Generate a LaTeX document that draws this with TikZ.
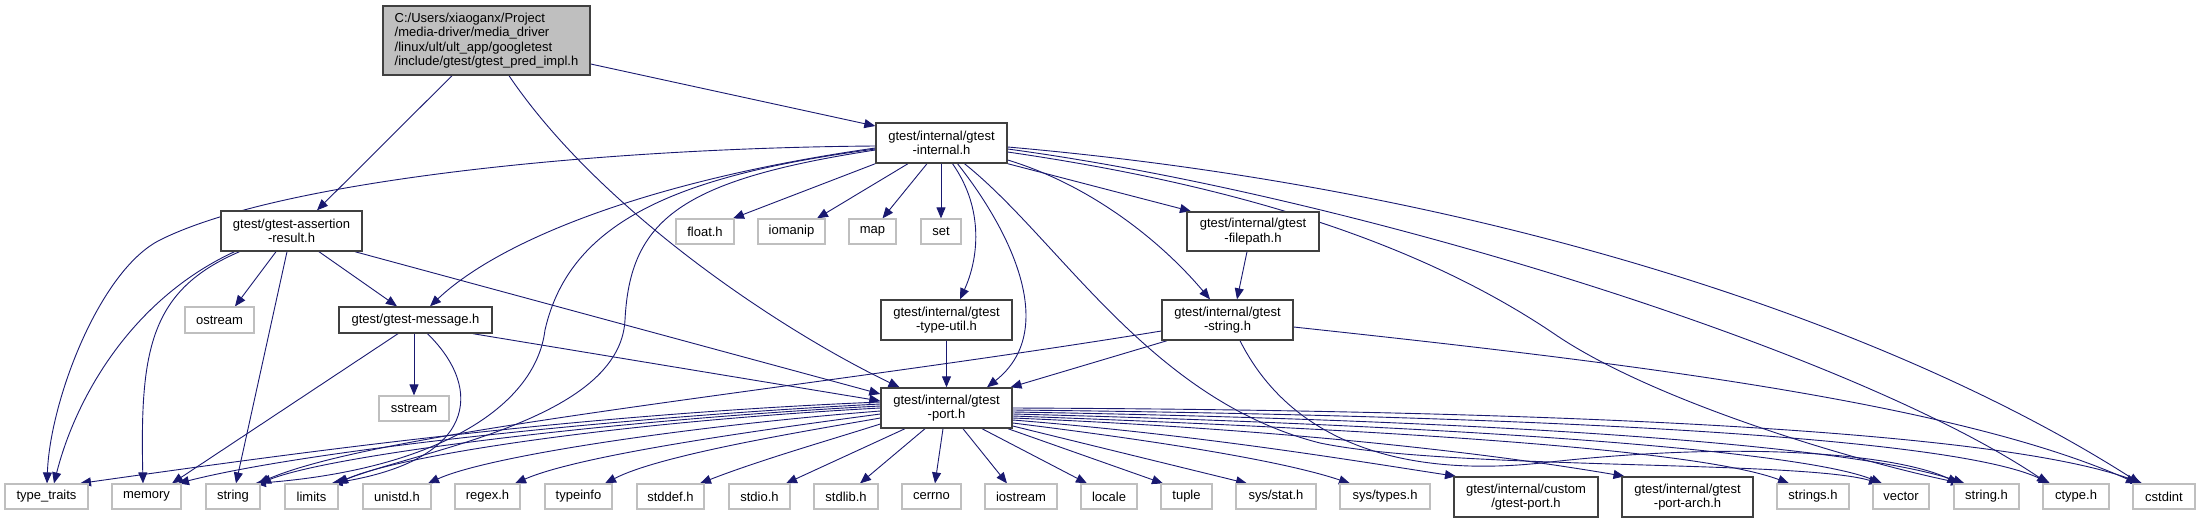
\documentclass[tikz,border=0pt]{standalone}
\usepackage{fontspec}
\setmainfont{Liberation Sans}
\usetikzlibrary{arrows.meta}
\definecolor{edgeblue}{HTML}{191970}
\definecolor{extgray}{HTML}{BFBFBF}
\definecolor{docgray}{HTML}{404040}
\definecolor{rootfill}{HTML}{BFBFBF}
\pgfdeclarelayer{bg}
\pgfsetlayers{bg,main}
\tikzset{
  bx/.style={inner sep=0pt, font=\fontsize{13}{14.5}\selectfont, align=center, fill=white},
  extn/.style={bx, draw=extgray, line width=1.2pt},
  docn/.style={bx, draw=docgray, line width=1.4pt},
  rootn/.style={docn, fill=rootfill, align=left},
  dep/.style={draw=edgeblue, line width=0.9pt, -{Triangle[length=11pt,width=9pt]}},
}
\begin{document}
\begin{tikzpicture}[x=1pt,y=-1pt]
\useasboundingbox (0,0) rectangle (2200,528);
% ---------- nodes ----------
\node[rootn, minimum width=207pt, minimum height=69pt] (R) at (486.5,40.5)
  {C:/Users/xiaoganx/Project\\/media-driver/media\_driver\\/linux/ult/ult\_app/googletest\\/include/gtest/gtest\_pred\_impl.h};
\node[docn, minimum width=141pt, minimum height=40pt] (A) at (291.5,231) {gtest/gtest-assertion\\-result.h};
\node[extn, minimum width=69pt, minimum height=26pt] (ost) at (219.5,320) {ostream};
\node[docn, minimum width=153pt, minimum height=26pt] (M) at (415.5,320) {gtest/gtest-message.h};
\node[extn, minimum width=70pt, minimum height=25pt] (sst) at (414,408.5) {sstream};
\node[docn, minimum width=131pt, minimum height=40pt] (I) at (941.5,143) {gtest/internal/gtest\\-internal.h};
\node[extn, minimum width=58pt, minimum height=25pt] (flt) at (705,231.5) {float.h};
\node[extn, minimum width=67pt, minimum height=25pt] (iom) at (791.5,231.5) {iomanip};
\node[extn, minimum width=47pt, minimum height=25pt] (map) at (872.5,231.5) {map};
\node[extn, minimum width=40pt, minimum height=25pt] (set) at (941,231.5) {set};
\node[docn, minimum width=132pt, minimum height=39pt] (F) at (1253,231.5) {gtest/internal/gtest\\-filepath.h};
\node[docn, minimum width=131pt, minimum height=40pt] (TU) at (946.5,320) {gtest/internal/gtest\\-type-util.h};
\node[docn, minimum width=131pt, minimum height=40pt] (S) at (1227.5,320) {gtest/internal/gtest\\-string.h};
\node[docn, minimum width=131pt, minimum height=40pt] (P) at (946.5,408) {gtest/internal/gtest\\-port.h};
% bottom row
\node[extn, minimum width=83pt, minimum height=25pt] (tt) at (46.5,496.5) {type\_traits};
\node[extn, minimum width=69pt, minimum height=25pt] (mem) at (146.5,496.5) {memory};
\node[extn, minimum width=54pt, minimum height=25pt] (str) at (233,496.5) {string};
\node[extn, minimum width=53pt, minimum height=25pt] (lim) at (311.5,496.5) {limits};
\node[extn, minimum width=68pt, minimum height=25pt] (uni) at (397,496.5) {unistd.h};
\node[extn, minimum width=65pt, minimum height=25pt] (reg) at (487.5,496.5) {regex.h};
\node[extn, minimum width=67pt, minimum height=25pt] (tin) at (578.5,496.5) {typeinfo};
\node[extn, minimum width=67pt, minimum height=25pt] (sdd) at (670.5,496.5) {stddef.h};
\node[extn, minimum width=61pt, minimum height=25pt] (sio) at (759.5,496.5) {stdio.h};
\node[extn, minimum width=64pt, minimum height=25pt] (slb) at (846,496.5) {stdlib.h};
\node[extn, minimum width=59pt, minimum height=25pt] (cer) at (931.5,496.5) {cerrno};
\node[extn, minimum width=72pt, minimum height=25pt] (ios) at (1021,496.5) {iostream};
\node[extn, minimum width=56pt, minimum height=25pt] (loc) at (1109,496.5) {locale};
\node[extn, minimum width=51pt, minimum height=25pt] (tup) at (1186.5,496.5) {tuple};
\node[extn, minimum width=80pt, minimum height=25pt] (sstat) at (1276,496.5) {sys/stat.h};
\node[extn, minimum width=90pt, minimum height=25pt] (sty) at (1385,496.5) {sys/types.h};
\node[docn, minimum width=144pt, minimum height=40pt] (cus) at (1526,497) {gtest/internal/custom\\/gtest-port.h};
\node[docn, minimum width=131pt, minimum height=40pt] (arc) at (1687.5,497) {gtest/internal/gtest\\-port-arch.h};
\node[extn, minimum width=72pt, minimum height=25pt] (sgs) at (1813,496.5) {strings.h};
\node[extn, minimum width=56pt, minimum height=25pt] (vec) at (1901,496.5) {vector};
\node[extn, minimum width=65pt, minimum height=25pt] (sth) at (1986.5,496.5) {string.h};
\node[extn, minimum width=66pt, minimum height=25pt] (cty) at (2076,496.5) {ctype.h};
\node[extn, minimum width=62pt, minimum height=25pt] (csi) at (2164,496.5) {cstdint};
% ---------- edges ----------
\begin{pgfonlayer}{bg}
% root
\draw[dep] ([xshift=-34.5pt]R.south) -- ([xshift=25.5pt]A.north);
\draw[dep] ([yshift=-23.5pt]R.east) -- ([yshift=17pt]I.west);
\draw[dep] ([xshift=22.5pt]R.south) .. controls (600,210) and (780,330) .. ([xshift=-47pt]P.north);
% assertion-result
\draw[dep] ([xshift=-57pt]A.south) .. controls (130,300) and (75,400) .. ([xshift=7.5pt]tt.north);
\draw[dep] ([xshift=-52pt]A.south) .. controls (150,290) and (140,350) .. ([xshift=-3.5pt]mem.north);
\draw[dep] ([xshift=-15.5pt]A.south) -- ([xshift=15.5pt]ost.north);
\draw[dep] ([xshift=-4.5pt]A.south) -- ([xshift=3pt]str.north);
\draw[dep] ([xshift=27.5pt]A.south) -- ([xshift=-18.5pt]M.north);
\draw[dep] ([xshift=63.5pt]A.south) -- ([yshift=14pt]P.west);
% message
\draw[dep] ([xshift=-17.5pt]M.south) -- ([xshift=25.5pt]mem.north);
\draw[dep] ([xshift=-1.5pt]M.south) -- (sst.north);
\draw[dep] ([xshift=12pt]M.south) .. controls (485,390) and (475,460) .. ([xshift=20pt]lim.north);
\draw[dep] ([xshift=57.5pt]M.south) -- ([yshift=7pt]P.west);
% internal
\draw[dep] ([yshift=-3pt]I.west) .. controls (600,148) and (280,180) .. (160,240)
           .. controls (100,270) and (50,400) .. ([xshift=0.5pt]tt.north);
\draw[dep] ([yshift=-5pt]I.west) .. controls (650,180) and (500,240) .. ([xshift=14.5pt]M.north);
\draw[dep] ([yshift=-6pt]I.west) .. controls (680,175) and (570,220) .. (545,330)
           .. controls (535,410) and (430,470) .. ([xshift=22pt]str.north);
\draw[dep] ([yshift=-7pt]I.west) .. controls (680,180) and (630,220) .. (625,320)
           .. controls (620,420) and (420,450) .. ([xshift=24pt]lim.north);
\draw[dep] (I.south west) -- ([xshift=28pt]flt.north);
\draw[dep] ([xshift=-33.5pt]I.south) -- ([xshift=25.5pt]iom.north);
\draw[dep] ([xshift=-14.5pt]I.south) -- ([xshift=10pt]map.north);
\draw[dep] ([xshift=-0.5pt]I.south) -- (set.north);
\draw[dep] ([xshift=11pt]I.south) .. controls (985,210) and (978,260) .. ([xshift=13.5pt]TU.north);
\draw[dep] ([xshift=16pt]I.south) .. controls (1010,230) and (1060,330) .. ([xshift=40.5pt]P.north);
\draw[dep] ([xshift=23pt]I.south) .. controls (1060,240) and (1150,400) .. (1320,443)
           .. controls (1450,470) and (1800,460) .. ([xshift=-21pt]vec.north);
\draw[dep] (I.south east) -- ([xshift=-62pt]F.north);
\draw[dep] ([yshift=-17pt]I.east) .. controls (1090,185) and (1160,240) .. ([xshift=-17.5pt]S.north);
\draw[dep] ([yshift=-9pt]I.east) .. controls (1200,180) and (1400,230) .. (1553,333)
           .. controls (1650,400) and (1850,460) .. ([xshift=-24.5pt]sth.north);
\draw[dep] ([yshift=-6pt]I.east) .. controls (1350,195) and (1850,350) .. ([xshift=-28pt]cty.north);
\draw[dep] ([yshift=-4pt]I.east) .. controls (1500,190) and (1900,330) .. ([xshift=-24pt]csi.north);
% filepath, type-util
\draw[dep] ([xshift=-6pt]F.south) -- ([xshift=9.5pt]S.north);
\draw[dep] (TU.south) -- (P.north);
% string
\draw[dep] ([yshift=-11pt]S.west) .. controls (800,390) and (380,430) .. ([xshift=25pt]str.north);
\draw[dep] ([xshift=-60.5pt]S.south) -- ([xshift=64pt]P.north);
\draw[dep] ([xshift=12.5pt]S.south) .. controls (1290,440) and (1400,480) .. (1550,462)
           .. controls (1750,440) and (1900,455) .. ([xshift=-28pt]sth.north);
\draw[dep] ([yshift=-7pt]S.east) .. controls (1600,360) and (1950,400) .. ([xshift=-27pt]csi.north);
% port: left
\draw[dep] ([yshift=6pt]P.west) .. controls (561,415) and (282,455) .. ([xshift=33.5pt]tt.north);
\draw[dep] ([yshift=4pt]P.west) .. controls (600,418) and (300,452) .. ([xshift=31.5pt]mem.north);
\draw[dep] ([yshift=2pt]P.west) .. controls (610,420) and (330,455) .. ([xshift=27pt]str.north);
\draw[dep] (P.west) .. controls (620,422) and (400,455) .. ([xshift=25.5pt]lim.north);
\draw[dep] ([yshift=-3pt]P.west) .. controls (700,425) and (490,455) .. ([xshift=31pt]uni.north);
\draw[dep] ([yshift=-6pt]P.west) .. controls (760,430) and (580,455) .. ([xshift=27.5pt]reg.north);
\draw[dep] ([yshift=-10pt]P.west) .. controls (800,432) and (660,455) .. ([xshift=26.5pt]tin.north);
\draw[dep] ([yshift=-16pt]P.west) .. controls (830,440) and (760,460) .. ([xshift=29.5pt]sdd.north);
\draw[dep] ([xshift=-41.5pt]P.south) -- ([xshift=26.5pt]sio.north);
\draw[dep] ([xshift=-21.5pt]P.south) -- ([xshift=14pt]slb.north);
% port: bottom
\draw[dep] ([xshift=-3.5pt]P.south) -- ([xshift=3.5pt]cer.north);
\draw[dep] ([xshift=16.5pt]P.south) -- ([xshift=-14pt]ios.north);
\draw[dep] ([xshift=35.5pt]P.south) -- ([xshift=-22pt]loc.north);
\draw[dep] ([xshift=61.5pt]P.south) -- ([xshift=-23.5pt]tup.north);
% port: right
\draw[dep] ([yshift=-18pt]P.east) -- ([xshift=-29pt]sstat.north);
\draw[dep] ([yshift=-15pt]P.east) .. controls (1150,440) and (1280,460) .. ([xshift=-35pt]sty.north);
\draw[dep] ([yshift=-12pt]P.east) .. controls (1200,435) and (1350,460) .. ([xshift=-70pt]cus.north);
\draw[dep] ([yshift=-10pt]P.east) .. controls (1300,430) and (1500,455) .. ([xshift=-63pt]arc.north);
\draw[dep] ([yshift=-8pt]P.east) .. controls (1400,430) and (1700,450) .. ([xshift=-24pt]sgs.north);
\draw[dep] ([yshift=-6pt]P.east) .. controls (1450,425) and (1800,450) .. ([xshift=-19pt]vec.north);
\draw[dep] ([yshift=-4pt]P.east) .. controls (1500,420) and (1850,445) .. ([xshift=-22pt]sth.north);
\draw[dep] ([yshift=-2pt]P.east) .. controls (1500,415) and (1950,435) .. ([xshift=-26pt]cty.north);
\draw[dep] (P.east) .. controls (1550,410) and (2000,430) .. ([xshift=-22pt]csi.north);
\end{pgfonlayer}
\end{tikzpicture}
\end{document}
